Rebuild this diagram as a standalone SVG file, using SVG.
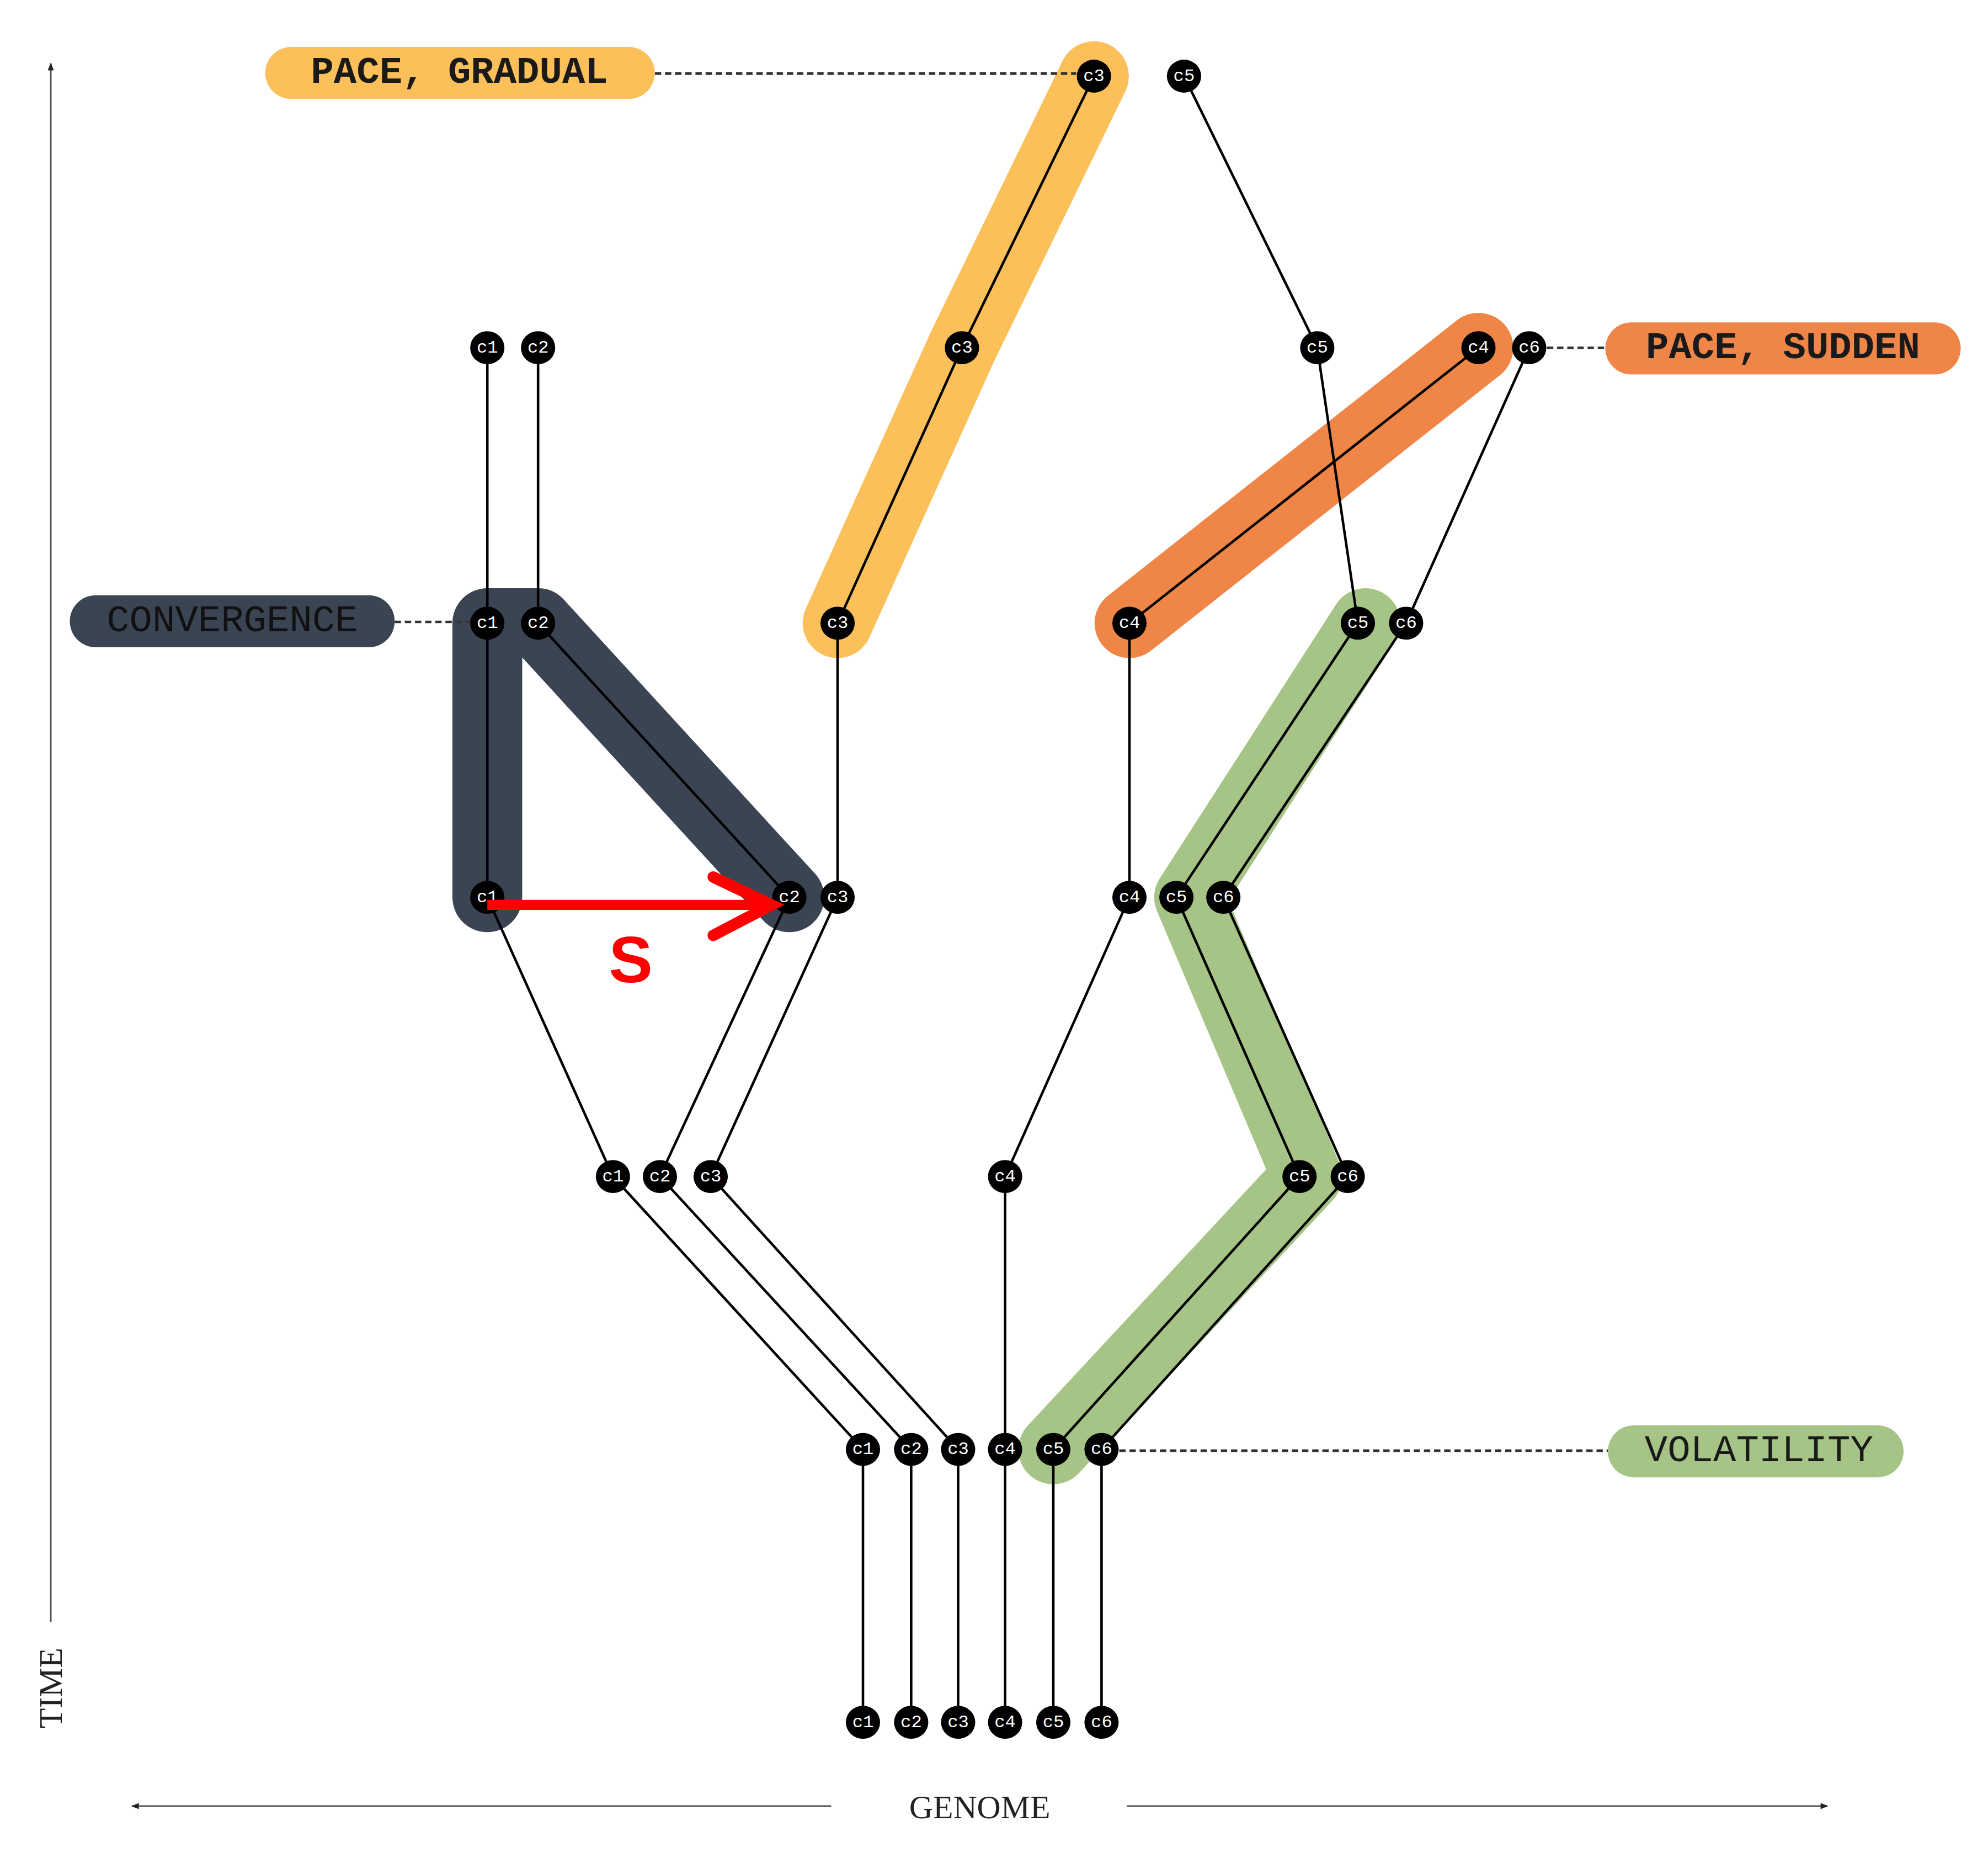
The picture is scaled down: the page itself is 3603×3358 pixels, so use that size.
<svg xmlns="http://www.w3.org/2000/svg" width="3603" height="3358" viewBox="0 0 3603 3358">
<defs>
<style>
.e{fill:none;stroke:#000;stroke-width:2}
.hl{fill:none;stroke-width:55;stroke-linecap:round;stroke-linejoin:round}
.n ellipse{fill:#000}
.n text{fill:#fff;font-family:"Liberation Mono",monospace;font-size:14px;text-anchor:middle;dominant-baseline:central}
.lbl{font-family:"Liberation Mono",monospace;font-size:30px;font-weight:bold;text-anchor:middle;dominant-baseline:central;fill:#1a1a1a}
.dash{stroke:#333;stroke-width:2;stroke-dasharray:5,3}
.ax{stroke:#555;stroke-width:1.3;fill:none}
.axt{font-family:"Liberation Serif",serif;font-size:26px;fill:#222;text-anchor:middle;dominant-baseline:central}
</style>
<marker id="ah" viewBox="0 0 10 10" refX="9" refY="5" markerWidth="10" markerHeight="6" orient="auto-start-reverse" markerUnits="userSpaceOnUse"><path d="M0,1 L10,5 L0,9 z" fill="#222"/></marker>
<g id="nd"><ellipse rx="13.5" ry="13"/></g>
</defs>
<rect width="3603" height="3358" fill="#fff"/>
<g transform="scale(2.3)">
<g id="highlights">
<path class="hl" stroke="#3b4452" d="M384,707 L384,491 L424,491 L622,707"/>
<path class="hl" stroke="#fbc05a" d="M660,491 L758,274 L862,60"/>
<path class="hl" stroke="#ef8647" d="M890,491 L1165,274"/>
<path class="hl" stroke="#a5c486" d="M1076,491 L937,707 L1030,927 L830,1142"/>
</g>
<g id="connectors">
<polyline class="e" points="384,274 384,707 483,927 680,1142 680,1357"/>
<polyline class="e" points="424,274 424,491 622,707 520,927 718,1142 718,1357"/>
<polyline class="e" points="862,60 758,274 660,491 660,707 560,927 755,1142 755,1357"/>
<polyline class="e" points="1165,274 890,491 890,707 792,927 792,1142 792,1357"/>
<polyline class="e" points="933,60 1038,274 1070,491 927,707 1024,927 830,1142 830,1357"/>
<polyline class="e" points="1205,274 1108,491 964,707 1062,927 868,1142 868,1357"/>
<line class="dash" x1="516" y1="58" x2="848" y2="58"/>
<line class="dash" x1="1219" y1="274" x2="1265" y2="274"/>
<line class="dash" x1="311" y1="490" x2="370" y2="490"/>
<line class="dash" x1="882" y1="1143" x2="1267" y2="1143"/>
</g>
<g id="nodes">
<g class="n" id="r0c3" transform="translate(862,60)"><ellipse rx="13.5" ry="13"/><text>c3</text></g>
<g class="n" id="r0c5" transform="translate(933,60)"><ellipse rx="13.5" ry="13"/><text>c5</text></g>
<g class="n" id="r1c1" transform="translate(384,274)"><ellipse rx="13.5" ry="13"/><text>c1</text></g>
<g class="n" id="r1c2" transform="translate(424,274)"><ellipse rx="13.5" ry="13"/><text>c2</text></g>
<g class="n" id="r1c3" transform="translate(758,274)"><ellipse rx="13.5" ry="13"/><text>c3</text></g>
<g class="n" id="r1c5" transform="translate(1038,274)"><ellipse rx="13.5" ry="13"/><text>c5</text></g>
<g class="n" id="r1c4" transform="translate(1165,274)"><ellipse rx="13.5" ry="13"/><text>c4</text></g>
<g class="n" id="r1c6" transform="translate(1205,274)"><ellipse rx="13.5" ry="13"/><text>c6</text></g>
<g class="n" id="r2c1" transform="translate(384,491)"><ellipse rx="13.5" ry="13"/><text>c1</text></g>
<g class="n" id="r2c2" transform="translate(424,491)"><ellipse rx="13.5" ry="13"/><text>c2</text></g>
<g class="n" id="r2c3" transform="translate(660,491)"><ellipse rx="13.5" ry="13"/><text>c3</text></g>
<g class="n" id="r2c4" transform="translate(890,491)"><ellipse rx="13.5" ry="13"/><text>c4</text></g>
<g class="n" id="r2c5" transform="translate(1070,491)"><ellipse rx="13.5" ry="13"/><text>c5</text></g>
<g class="n" id="r2c6" transform="translate(1108,491)"><ellipse rx="13.5" ry="13"/><text>c6</text></g>
<g class="n" id="r3c1" transform="translate(384,707)"><ellipse rx="13.5" ry="13"/><text>c1</text></g>
<g class="n" id="r3c2" transform="translate(622,707)"><ellipse rx="13.5" ry="13"/><text>c2</text></g>
<g class="n" id="r3c3" transform="translate(660,707)"><ellipse rx="13.5" ry="13"/><text>c3</text></g>
<g class="n" id="r3c4" transform="translate(890,707)"><ellipse rx="13.5" ry="13"/><text>c4</text></g>
<g class="n" id="r3c5" transform="translate(927,707)"><ellipse rx="13.5" ry="13"/><text>c5</text></g>
<g class="n" id="r3c6" transform="translate(964,707)"><ellipse rx="13.5" ry="13"/><text>c6</text></g>
<g class="n" id="r4c1" transform="translate(483,927)"><ellipse rx="13.5" ry="13"/><text>c1</text></g>
<g class="n" id="r4c2" transform="translate(520,927)"><ellipse rx="13.5" ry="13"/><text>c2</text></g>
<g class="n" id="r4c3" transform="translate(560,927)"><ellipse rx="13.5" ry="13"/><text>c3</text></g>
<g class="n" id="r4c4" transform="translate(792,927)"><ellipse rx="13.5" ry="13"/><text>c4</text></g>
<g class="n" id="r4c5" transform="translate(1024,927)"><ellipse rx="13.5" ry="13"/><text>c5</text></g>
<g class="n" id="r4c6" transform="translate(1062,927)"><ellipse rx="13.5" ry="13"/><text>c6</text></g>
<g class="n" id="r5c1" transform="translate(680,1142)"><ellipse rx="13.5" ry="13"/><text>c1</text></g>
<g class="n" id="r5c2" transform="translate(718,1142)"><ellipse rx="13.5" ry="13"/><text>c2</text></g>
<g class="n" id="r5c3" transform="translate(755,1142)"><ellipse rx="13.5" ry="13"/><text>c3</text></g>
<g class="n" id="r5c4" transform="translate(792,1142)"><ellipse rx="13.5" ry="13"/><text>c4</text></g>
<g class="n" id="r5c5" transform="translate(830,1142)"><ellipse rx="13.5" ry="13"/><text>c5</text></g>
<g class="n" id="r5c6" transform="translate(868,1142)"><ellipse rx="13.5" ry="13"/><text>c6</text></g>
<g class="n" id="r6c1" transform="translate(680,1357)"><ellipse rx="13.5" ry="13"/><text>c1</text></g>
<g class="n" id="r6c2" transform="translate(718,1357)"><ellipse rx="13.5" ry="13"/><text>c2</text></g>
<g class="n" id="r6c3" transform="translate(755,1357)"><ellipse rx="13.5" ry="13"/><text>c3</text></g>
<g class="n" id="r6c4" transform="translate(792,1357)"><ellipse rx="13.5" ry="13"/><text>c4</text></g>
<g class="n" id="r6c5" transform="translate(830,1357)"><ellipse rx="13.5" ry="13"/><text>c5</text></g>
<g class="n" id="r6c6" transform="translate(868,1357)"><ellipse rx="13.5" ry="13"/><text>c6</text></g>
</g>
<g id="labels">
<g id="lbl-gradual"><rect x="209" y="37" width="307" height="41" rx="20.5" fill="#fbc05a"/><text class="lbl" x="362" y="57.5">PACE, GRADUAL</text></g>
<g id="lbl-sudden"><rect x="1265" y="254" width="280" height="41" rx="20.5" fill="#ef8647"/><text class="lbl" x="1405" y="274.5">PACE, SUDDEN</text></g>
<g id="lbl-conv"><rect x="55" y="469" width="256" height="41" rx="20.5" fill="#3b4452"/><text class="lbl" x="183" y="489.5" style="font-weight:normal;fill:#111">CONVERGENCE</text></g>
<g id="lbl-vol"><rect x="1267" y="1123" width="233" height="41" rx="20.5" fill="#a5c486"/><text class="lbl" x="1386" y="1143.5" style="font-weight:normal">VOLATILITY</text></g>
</g>
<g id="axes">
<line class="ax" x1="40" y1="1278" x2="40" y2="50" marker-end="url(#ah)"/>
<text class="axt" transform="translate(40,1330) rotate(-90)">TIME</text>
<line class="ax" x1="655" y1="1423" x2="104" y2="1423" marker-end="url(#ah)"/>
<line class="ax" x1="888" y1="1423" x2="1440" y2="1423" marker-end="url(#ah)"/>
<text class="axt" x="772" y="1424">GENOME</text>
</g>
<g id="shift">
<line x1="384" y1="713" x2="604" y2="713" stroke="#f00" stroke-width="8"/>
<polyline points="562,691 608,713 562,737" fill="none" stroke="#f00" stroke-width="9" stroke-linecap="round" stroke-linejoin="miter"/>
<text x="497" y="756" font-family="Liberation Sans,Arial,sans-serif" font-weight="bold" font-size="52" fill="#f00" text-anchor="middle" dominant-baseline="central">S</text>
</g>
</g>
</svg>
